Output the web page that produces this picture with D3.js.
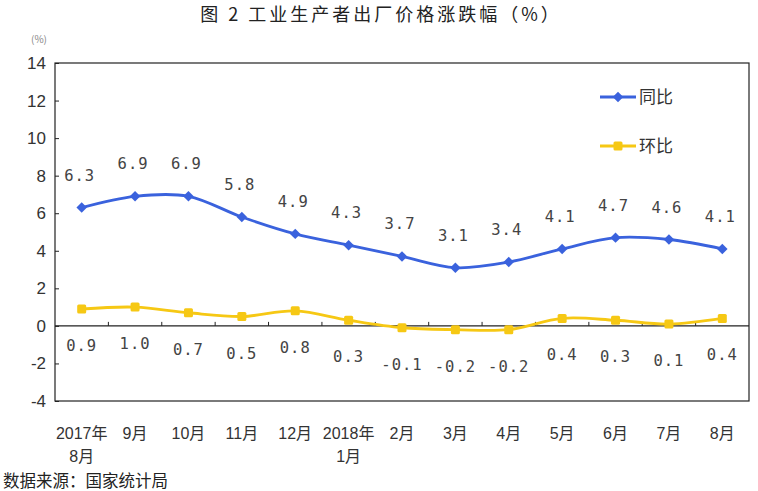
<!DOCTYPE html>
<html><head><meta charset="utf-8">
<script src="https://cdn.jsdelivr.net/npm/d3@7"></script>
<style>
html,body{margin:0;padding:0;background:#fff;}
svg{display:block;}
</style></head>
<body>
<svg id="chart" width="758" height="491"></svg>
<script>
const categories = ["2017年8月","9月","10月","11月","12月","2018年1月","2月","3月","4月","5月","6月","7月","8月"];
const xLabelLine1 = ["2017年","9月","10月","11月","12月","2018年","2月","3月","4月","5月","6月","7月","8月"];
const xLabelLine2 = ["8月","","","","","1月","","","","","","",""];
const yoy = [6.3,6.9,6.9,5.8,4.9,4.3,3.7,3.1,3.4,4.1,4.7,4.6,4.1];
const mom = [0.9,1.0,0.7,0.5,0.8,0.3,-0.1,-0.2,-0.2,0.4,0.3,0.1,0.4];
const yTicks = [-4,-2,0,2,4,6,8,10,12,14];
const seriesNames = ["同比","环比"];
const title = "图 2 工业生产者出厂价格涨跌幅（%）";
const unitLabel = "(%)";
const source = "数据来源：国家统计局";

const blue = "#3A62DD", yellow = "#F6C814", ink = "#333";
const svg = d3.select("#chart");
const L = 55, R = 749, T = 63, B = 401;
const x = d3.scaleBand().domain(categories).range([L, R]);
const cx = c => x(c) + x.bandwidth()/2;
const y = d3.scaleLinear().domain([-4,14]).range([B, T]);
const fmt1 = d => d3.format(".1f")(d).replace("\u2212","-");

// title
svg.append("text").attr("x", 381).attr("y", 21).attr("text-anchor","middle")
  .attr("font-family","'Noto Sans CJK SC'").attr("font-size",18).attr("letter-spacing",3)
  .attr("fill","#222").text(title);
svg.append("text").attr("x", 31).attr("y", 43)
  .attr("font-family","'Noto Sans CJK SC'").attr("font-size",10).attr("fill","#888").text(unitLabel);

// frame
svg.append("rect").attr("x",L).attr("y",T).attr("width",R-L).attr("height",B-T)
  .attr("fill","none").attr("stroke","#222").attr("stroke-width",1.2);

// y axis
const yAxis = svg.append("g").attr("transform",`translate(${L},0)`)
  .call(d3.axisLeft(y).tickValues(yTicks).tickSize(-4).tickPadding(9).tickFormat(d => String(d)));
yAxis.select(".domain").remove();
yAxis.selectAll("line").attr("stroke","#222");
yAxis.selectAll("text").attr("font-family","'Liberation Sans'").attr("font-size",17).attr("fill",ink);

// zero line with upward ticks
svg.append("line").attr("x1",L).attr("x2",R).attr("y1",y(0)).attr("y2",y(0)).attr("stroke","#222").attr("stroke-width",1.2);
svg.append("g").selectAll("line").data(categories.slice(1)).join("line")
  .attr("x1",d=>x(d)).attr("x2",d=>x(d)).attr("y1",y(0)).attr("y2",y(0)-4).attr("stroke","#222");

// x labels
const xl = svg.append("g").attr("font-family","'Liberation Sans','Noto Sans CJK SC'").attr("font-size",16).attr("fill",ink).attr("text-anchor","middle");
categories.forEach((c,i)=>{
  xl.append("text").attr("x",cx(c)).attr("y",439).text(xLabelLine1[i]);
  if (xLabelLine2[i]) xl.append("text").attr("x",cx(c)).attr("y",462).text(xLabelLine2[i]);
});

// lines
const line = d3.line().x((d,i)=>cx(categories[i])).y(d=>y(d)).curve(d3.curveCardinal.tension(0));
svg.append("path").datum(mom).attr("d",line).attr("fill","none").attr("stroke",yellow).attr("stroke-width",2.8);
svg.append("path").datum(yoy).attr("d",line).attr("fill","none").attr("stroke",blue).attr("stroke-width",2.8);

// markers
svg.append("g").selectAll("rect").data(mom).join("rect")
  .attr("x",(d,i)=>cx(categories[i])-4.5).attr("y",d=>y(d)-4.5).attr("width",9).attr("height",9).attr("rx",1.5)
  .attr("fill",yellow);
const diamond = d3.symbol().type(d3.symbolDiamond2).size(70);
svg.append("g").selectAll("path").data(yoy).join("path")
  .attr("transform",(d,i)=>`translate(${cx(categories[i])},${y(d)})`).attr("d",diamond).attr("fill",blue);

// data labels
const lab = svg.append("g").attr("font-family","'DejaVu Sans Mono'").attr("font-size",15.5)
  .attr("fill","#444").attr("text-anchor","middle").attr("letter-spacing",1);
lab.selectAll("text.yoy").data(yoy).join("text").attr("class","yoy")
  .attr("x",(d,i)=>cx(categories[i])-2).attr("y",d=>y(d)-27).text(fmt1);
lab.selectAll("text.mom").data(mom).join("text").attr("class","mom")
  .attr("x",(d,i)=>cx(categories[i])).attr("y",d=>y(d)+42).text(fmt1);

// legend
const leg = svg.append("g");
[[blue,97,"d"],[yellow,146,"s"]].forEach(([col,ly,t],i)=>{
  leg.append("line").attr("x1",600).attr("x2",636).attr("y1",ly).attr("y2",ly).attr("stroke",col).attr("stroke-width",2.8);
  if (t==="d") leg.append("path").attr("transform",`translate(618,${ly})`).attr("d",diamond).attr("fill",col);
  else leg.append("rect").attr("x",613.5).attr("y",ly-4.5).attr("width",9).attr("height",9).attr("rx",1.5).attr("fill",col);
  leg.append("text").attr("x",639).attr("y",ly+6).attr("font-family","'Noto Sans CJK SC'").attr("font-size",17)
    .attr("fill",ink).text(seriesNames[i]);
});

// source
svg.append("text").attr("x",3).attr("y",487).attr("font-family","'Noto Sans CJK SC'").attr("font-size",16.5)
  .attr("fill","#222").text(source);
</script>
</body></html>
